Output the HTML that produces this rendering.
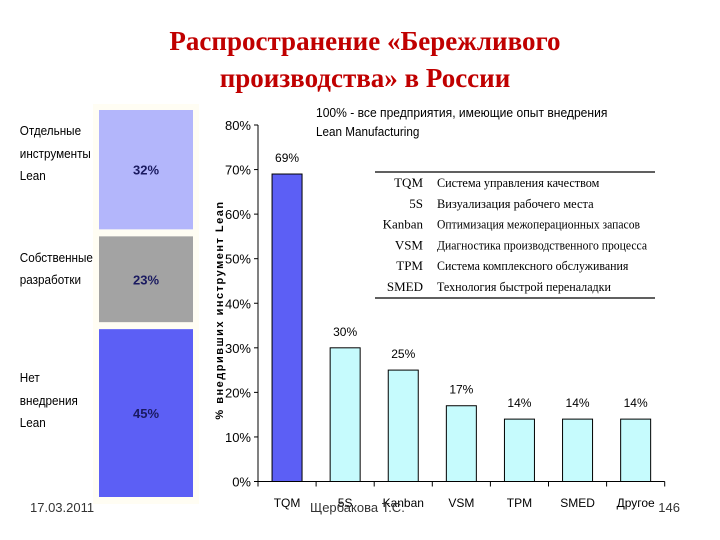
<!DOCTYPE html>
<html><head><meta charset="utf-8"><style>
body{margin:0;width:720px;height:540px;background:#fff;overflow:hidden;font-family:"Liberation Sans",sans-serif}
svg{display:block}
</style></head><body>
<svg width="720" height="540" xmlns="http://www.w3.org/2000/svg">
<text x="365" y="50" text-anchor="middle" font-family="Liberation Serif,serif" font-weight="bold" font-size="27" fill="#c00000">Распространение «Бережливого</text>
<text x="365" y="87" text-anchor="middle" font-family="Liberation Serif,serif" font-weight="bold" font-size="27" fill="#c00000">производства» в России</text>
<rect x="93" y="104" width="106" height="400" fill="#fffdf3"/>
<g id="stack"></g>
<g font-size="13" fill="#000" style="font-stretch:condensed" transform="scale(0.9,1)">
<text x="22" y="135">Отдельные</text><text x="22" y="158">инструменты</text><text x="22" y="180">Lean</text>
<text x="22" y="262">Собственные</text><text x="22" y="284">разработки</text>
<text x="22" y="382">Нет</text><text x="22" y="405">внедрения</text><text x="22" y="427">Lean</text>
</g>
<g id="chart"></g>
<text transform="translate(223,310) rotate(-90)" text-anchor="middle" font-size="11" font-weight="bold" letter-spacing="1.5">% внедривших инструмент Lean</text>
<text x="316" y="117" font-size="13" transform="scale(0.93,1)" style="transform-origin:316px 117px">100% -  все предприятия, имеющие опыт внедрения</text>
<text x="316" y="136" font-size="13" transform="scale(0.9,1)" style="transform-origin:316px 136px">Lean Manufacturing</text>
<line x1="375" y1="172" x2="655" y2="172" stroke="#000" stroke-width="1.2"/>
<line x1="375" y1="298" x2="655" y2="298" stroke="#000" stroke-width="1.2"/>
<g id="legend" font-family="Liberation Serif,serif" font-size="13"></g>
<text x="30" y="512" font-size="13" fill="#333">17.03.2011</text>
<text x="310" y="512" font-size="13" fill="#333">Щербакова Т.С.</text>
<text x="680" y="512" text-anchor="end" font-size="13" fill="#333">146</text>
</svg>
<script>
const NS="http://www.w3.org/2000/svg";
const stackLabels=["32%","23%","45%"];
const stackValues=[32,23,45];
const categories=["TQM","5S","Kanban","VSM","TPM","SMED","Другое"];
const values=[69,30,25,17,14,14,14];
const yTicks=[0,10,20,30,40,50,60,70,80];
const legendCodes=["TQM","5S","Kanban","VSM","TPM","SMED"];
const legendDesc=["Система управления качеством","Визуализация рабочего места","Оптимизация межоперационных запасов","Диагностика производственного процесса","Система комплексного обслуживания","Технология быстрой переналадки"];
function mk(t,a,p){const e=document.createElementNS(NS,t);for(const k in a)e.setAttribute(k,a[k]);p.appendChild(e);return e;}
// stacked bar
const st=document.getElementById('stack');
const stackColors=["#b3b6fb","#a3a3a3","#5c5ff5"];
const sTop=110,sH=387,gap=7;
let y=sTop;const tot=stackValues.reduce((a,b)=>a+b,0);const avail=sH-gap*2;
stackValues.forEach((v,i)=>{const h=v/tot*avail;
const r=mk('rect',{x:99,y:y,width:94,height:h,fill:stackColors[i]},st);


const t=mk('text',{x:146,y:y+h/2+5,'text-anchor':'middle','font-size':13,'font-weight':'bold',fill:'#1a1a60'},st);


t.textContent=stackLabels[i];y+=h+gap;});
// bar chart
const ch=document.getElementById('chart');
const y0=481.5,pxPer=(481.5-125)/80,xAxis=258,step=58.1;
const yS=v=>y0-v*pxPer;
const xC=i=>xAxis+step*(i+0.5);
mk('line',{x1:xAxis,y1:yS(80),x2:xAxis,y2:y0,stroke:'#000'},ch);
mk('line',{x1:xAxis,y1:y0,x2:xAxis+step*categories.length,y2:y0,stroke:'#000'},ch);
yTicks.forEach(v=>{mk('line',{x1:xAxis-4,y1:yS(v),x2:xAxis,y2:yS(v),stroke:'#000'},ch);
const t=mk('text',{x:xAxis-7,y:yS(v)+5,'text-anchor':'end','font-size':13},ch);


t.textContent=v+'%';});
for(let i=0;i<=categories.length;i++)mk('line',{x1:xAxis+step*i,y1:y0,x2:xAxis+step*i,y2:y0+5,stroke:'#000'},ch);
categories.forEach((c,i)=>{const w=30,x=xC(i)-w/2;
const b=mk('rect',{x:x,y:yS(values[i]),width:w,height:y0-yS(values[i]),fill:i==0?'#5c5ff5':'#c6fbfd',stroke:'#000','stroke-width':1},ch);


const t=mk('text',{x:xC(i),y:yS(values[i])-12,'text-anchor':'middle','font-size':12},ch);


t.textContent=values[i]+'%';
const l=mk('text',{x:xC(i),y:507,'text-anchor':'middle','font-size':12},ch);


l.textContent=c;});
// legend
const lg=document.getElementById('legend');
legendCodes.forEach((c,i)=>{const yy=187+i*20.8;
const a=mk('text',{x:423,y:yy,'text-anchor':'end'},lg);


a.textContent=c;
const d=mk('text',{x:437,y:yy,textLength:Math.min(210,legendDesc[i].length*5.8),lengthAdjust:'spacingAndGlyphs'},lg);


d.textContent=legendDesc[i];});
</script>
</body></html>
